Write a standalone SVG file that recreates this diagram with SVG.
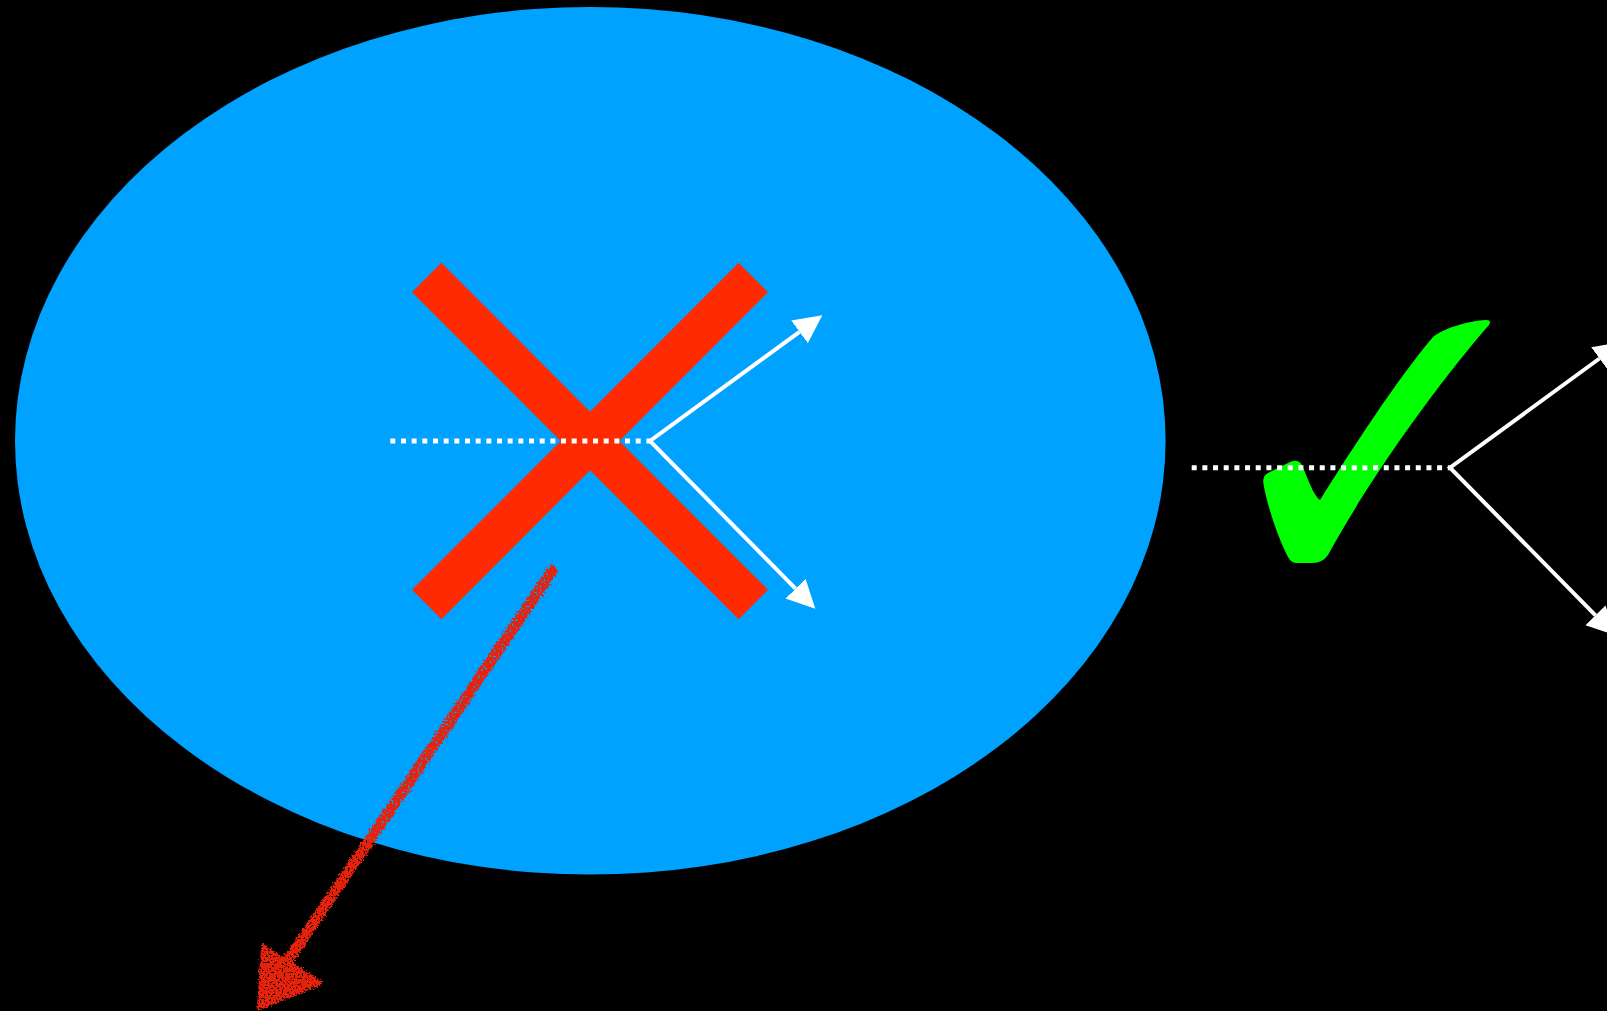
<svg xmlns="http://www.w3.org/2000/svg" width="1607" height="1011" viewBox="0 0 1607 1011">
  <style>
    .ray { fill: none; stroke: #ffffff; stroke-width: 4; stroke-linejoin: miter; marker-start: url(#wh); marker-end: url(#wh); }
    .dots { fill: none; stroke: #ffffff; stroke-width: 5; stroke-dasharray: 5 5.67; }
    .bar { stroke: #FF2A00; stroke-width: 41.5; stroke-linecap: butt; }
  </style>
  <defs>
    <marker id="wh" markerUnits="userSpaceOnUse" markerWidth="30" markerHeight="30" viewBox="0 -13 26 26" refX="0" refY="0" orient="auto-start-reverse">
      <path d="M0,-12.2 L24.5,0 L0,12.2 Z" fill="#ffffff"/>
    </marker>
    <filter id="rough" x="-10%" y="-10%" width="120%" height="120%">
      <feTurbulence type="fractalNoise" baseFrequency="0.45" numOctaves="2" seed="3" result="n"/>
      <feDisplacementMap in="SourceGraphic" in2="n" scale="7" xChannelSelector="R" yChannelSelector="G" result="d"/>
      <feTurbulence type="fractalNoise" baseFrequency="0.5" numOctaves="2" seed="8" result="s"/>
      <feColorMatrix in="s" type="matrix" values="0 0 0 0 0  0 0 0 0 0  0 0 0 0 0  0 0 0 -12 8.4" result="m"/>
      <feComposite in="d" in2="m" operator="in"/>
    </filter>
  </defs>
  <rect x="0" y="0" width="1607" height="1011" fill="#000000"/>

  <g id="ellipse">
    <ellipse cx="590.3" cy="440.8" rx="575.3" ry="433.8" fill="#00A2FF"/>
  </g>

  <g id="cross">
    <line class="bar" x1="426.7" y1="277.5" x2="753.3" y2="604.5"/>
    <line class="bar" x1="753.3" y1="277.5" x2="426.7" y2="604.5"/>
  </g>

  <g id="check">
    <path fill="#00FF00" d="M1320,500 C1350,452 1398,378 1433,337 C1443,329 1466,321 1486,320 Q1492,320 1489,325 C1460,358 1385,452 1328,555 Q1322,563 1313,563 L1297,563 Q1291,563 1288,557 C1278,538 1267,505 1263.5,484 Q1262,476 1268,473 L1290,462 Q1298,458.5 1302,465 C1307,476 1313,495 1320,500 Z"/>
  </g>

  <g id="connectors">
    <line class="dots" x1="390.3" y1="441" x2="650" y2="441"/>
    <path class="ray" d="M799.5,331.8 L650,441 L795.5,588.6"/>
    <line class="dots" x1="1191.7" y1="467.7" x2="1450" y2="467.7"/>
    <path class="ray" d="M1599.5,358.5 L1450,467.7 L1595.5,615.3"/>
  </g>

  <g id="sketch-arrow" filter="url(#rough)" fill="#E6230E" stroke="#E6230E">
    <line x1="552" y1="571" x2="287" y2="962" stroke-width="11" stroke-linecap="round"/>
    <path d="M263,946 L321,983 L259,1008 Z" stroke-width="4" stroke-linejoin="round"/>
  </g>
</svg>
